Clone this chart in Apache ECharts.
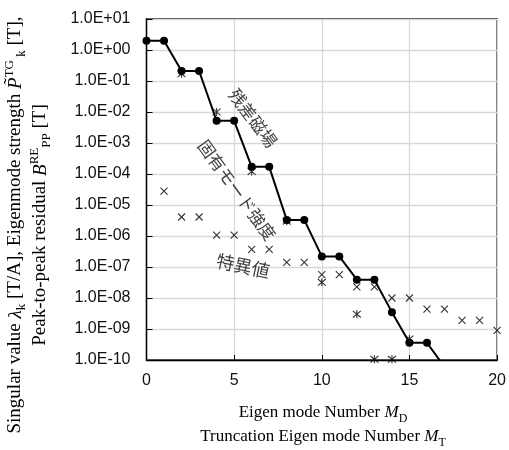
<!DOCTYPE html>
<html>
<head>
<meta charset="utf-8">
<script src="https://cdn.jsdelivr.net/npm/echarts@6/dist/echarts.min.js"></script>
<style>
  html, body { margin: 0; padding: 0; background: #fff; }
  #chart { width: 509px; height: 450px; }
</style>
</head>
<body>
<div id="chart"></div>
<script>
// 固有モード強度 (line with dots)
const strengthModes = [0, 1, 2, 3, 4, 5, 6, 7, 8, 9, 10, 11, 12, 13, 14, 15, 16, 17];
const strengthValues = [2.0, 2.0, 0.21, 0.21, 5.2e-3, 5.2e-3, 1.7e-4, 1.7e-4, 3.3e-6, 3.3e-6,
  2.2e-7, 2.2e-7, 3.9e-8, 3.9e-8, 3.5e-9, 3.6e-10, 3.6e-10, 6e-11];
// 特異値 (crosses)
const singularModes = [1, 2, 3, 4, 5, 6, 7, 8, 9, 10, 11, 12, 13, 14, 15, 16, 17, 18, 19, 20];
const singularValues = [2.8e-5, 4.1e-6, 4.1e-6, 1.07e-6, 1.07e-6, 3.7e-7, 3.7e-7, 1.4e-7, 1.4e-7,
  5.7e-8, 5.7e-8, 2.3e-8, 2.3e-8, 1.0e-8, 1.0e-8, 4.4e-9, 4.4e-9, 1.9e-9, 1.9e-9, 9e-10];
// 残差磁場 (stars)
const residualModes = [2, 4, 6, 8, 10, 12, 13, 14, 15];
const residualValues = [0.17, 1.0e-2, 1.2e-4, 3.0e-6, 3.2e-8, 3.0e-9, 1.05e-10, 1.05e-10, 4.8e-10];

const xTicks = [0, 5, 10, 15, 20];

const serif = '"Liberation Serif", "Times New Roman", serif';
const sans = '"Liberation Sans", Arial, sans-serif';
const cjk = '"Noto Sans CJK JP", sans-serif';

function pairs(xs, ys) {
  return xs.map((x, i) => [x, ys[i]]);
}

// 1.0E-05 style labels
function sciLabel(v) {
  const e = Math.round(Math.log10(v));
  const sign = e < 0 ? '-' : '+';
  const abs = Math.abs(e);
  return '1.0E' + sign + (abs < 10 ? '0' + abs : '' + abs);
}

const crossPath = 'path://M0,0L10,10M10,0L0,10';
const starPath = 'path://M0,0L10,10M10,0L0,10M5,-1L5,11';

function makeRich(size) {
  const small = Math.round(size * 0.68);
  return {
    n: { fontFamily: serif, fontSize: size, lineHeight: size + 6, color: '#222' },
    i: { fontFamily: serif, fontSize: size, lineHeight: size + 6, fontStyle: 'italic', color: '#222' },
    sub: { fontFamily: serif, fontSize: small, verticalAlign: 'bottom', color: '#222' },
    sup: { fontFamily: serif, fontSize: small, verticalAlign: 'top', color: '#222' }
  };
}

const myChart = echarts.init(document.getElementById('chart'));

const options = {
  backgroundColor: '#fff',
  animation: false,
  grid: {
    left: 146.5,
    right: 9,
    top: 19,
    bottom: 90,
    show: true,
    borderColor: '#000',
    borderWidth: 1.3
  },
  xAxis: {
    type: 'value',
    min: 0,
    max: 20,
    interval: 5,
    axisLine: { show: true, lineStyle: { color: '#000', width: 1.3 } },
    axisTick: { show: true, inside: true, length: 5, lineStyle: { color: '#000' } },
    splitLine: { show: true, lineStyle: { color: '#d9d9d9', width: 1.3 } },
    axisLabel: {
      margin: 13,
      fontFamily: sans,
      fontSize: 16,
      color: '#111',
      formatter: function (v) { return xTicks.indexOf(v) >= 0 ? String(v) : ''; }
    }
  },
  yAxis: {
    type: 'log',
    logBase: 10,
    min: 1e-10,
    max: 10,
    interval: 1,
    axisLine: { show: true, lineStyle: { color: '#000', width: 1.3 } },
    axisTick: { show: true, inside: true, length: 6, lineStyle: { color: '#000' } },
    splitLine: { show: true, lineStyle: { color: '#d9d9d9', width: 1.3 } },
    axisLabel: {
      margin: 16,
      fontFamily: sans,
      fontSize: 16,
      color: '#111',
      formatter: sciLabel
    }
  },
  series: [
    {
      name: '固有モード強度',
      type: 'line',
      data: pairs(strengthModes, strengthValues),
      symbol: 'circle',
      symbolSize: 8,
      clip: true,
      lineStyle: { color: '#000', width: 2 },
      itemStyle: { color: '#000' },
      z: 2
    },
    {
      name: '特異値',
      type: 'scatter',
      data: pairs(singularModes, singularValues),
      symbol: crossPath,
      symbolSize: 7,
      itemStyle: { color: 'transparent', borderColor: '#000', borderWidth: 1.1 },
      z: 3
    },
    {
      name: '残差磁場',
      type: 'scatter',
      data: pairs(residualModes, residualValues),
      symbol: starPath,
      symbolSize: 8,
      itemStyle: { color: 'transparent', borderColor: '#000', borderWidth: 1.1 },
      z: 4
    }
  ],
  graphic: [
    {
      type: 'text',
      x: 28,
      y: 225,
      rotation: Math.PI / 2,
      style: {
        text: '{n|Singular value }{i|λ}{sub|k}{n| [T/A], Eigenmode strength }{i|P\u0303}{sup|TG}{sub| k}{n| [T],}\n' +
              '{n|Peak-to-peak residual }{i|B}{sup|RE}{sub|PP}{n| [T]}',
        rich: makeRich(19),
        textAlign: 'center',
        textVerticalAlign: 'middle'
      }
    },
    {
      type: 'text',
      x: 323,
      y: 413,
      style: {
        text: '{n|Eigen mode Number }{i|M}{sub|D}',
        rich: makeRich(17),
        textAlign: 'center',
        textVerticalAlign: 'middle'
      }
    },
    {
      type: 'text',
      x: 323,
      y: 437,
      style: {
        text: '{n|Truncation Eigen mode Number }{i|M}{sub|T}',
        rich: makeRich(17),
        textAlign: 'center',
        textVerticalAlign: 'middle'
      }
    },
    {
      type: 'text',
      x: 253,
      y: 118,
      rotation: -53 * Math.PI / 180,
      style: {
        text: '残差磁場',
        font: '17px ' + cjk,
        fill: '#404040',
        textAlign: 'center',
        textVerticalAlign: 'middle'
      },
      z: 10
    },
    {
      type: 'text',
      x: 237,
      y: 190,
      rotation: -54 * Math.PI / 180,
      style: {
        text: '固有モード強度',
        font: '17px ' + cjk,
        fill: '#404040',
        textAlign: 'center',
        textVerticalAlign: 'middle'
      },
      z: 10
    },
    {
      type: 'text',
      x: 243,
      y: 266,
      rotation: -12 * Math.PI / 180,
      style: {
        text: '特異値',
        font: '18px ' + cjk,
        fill: '#404040',
        textAlign: 'center',
        textVerticalAlign: 'middle'
      },
      z: 10
    }
  ]
};

myChart.setOption(options, true);
window.addEventListener('resize', function () {
  myChart.resize();
});
</script>
</body>
</html>
